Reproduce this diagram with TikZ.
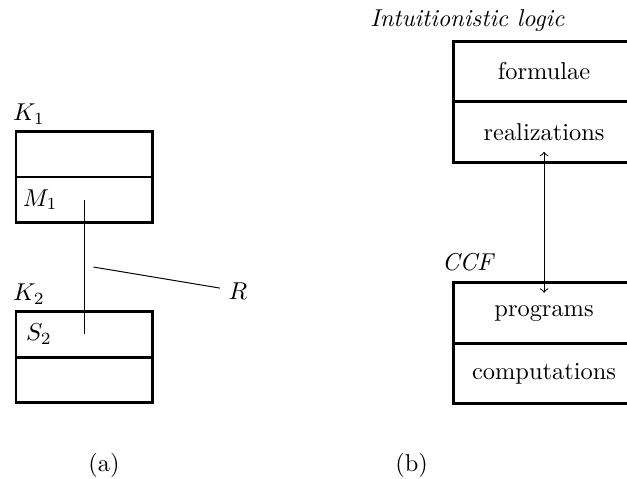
\documentclass[tikz,border=0pt]{standalone}
\usepackage{amsmath}
\usepackage{amssymb}
\usepackage{tikz}
\usetikzlibrary{positioning,calc}

\begin{document}
\begin{tikzpicture}[node distance=0pt, cell/.style={draw, very thick, outer sep=0pt, inner sep=0pt, minimum width=56.1pt, minimum height=18.65pt}, bigcell/.style={draw, very thick, outer sep=0pt, inner sep=0pt, minimum width=74.6pt, minimum height=24.8pt}]
	\useasboundingbox (0,0) rectangle (257pt,-196.3pt);

	% (a)
	\node[cell, anchor=north west] (k_1) at (6.56pt,-53.9pt) {};
	\node[cell] (m_1) [below=of k_1] {};
	\node[cell, anchor=north west] (s_2) at (6.56pt,-127.7pt) {};
	\node[cell] (k_2) [below=of s_2] {};
	\node[anchor=base west, inner sep=0pt] (k_1lab) at ([shift={(-1.4pt,4.5pt)}]k_1.north west) {$K_1$};
	\node[anchor=base west, inner sep=0pt] (k_2lab) at ([shift={(-1.4pt,4.5pt)}]s_2.north west) {$K_2$};
	\node[anchor=west, inner sep=2.6pt] (m_1lab) at (m_1.west) {$M_1$};
	\node[anchor=west, inner sep=3.9pt] (s_2lab) at (s_2.west) {$S_2$};
	\node (R) at (97.5pt,-119.3pt) {$R$};
	\coordinate (rel) at ($(m_1.center)!0.5!(s_2.center)+(3.7pt,0)$);
	\draw[thin] (m_1.center) -- (s_2.center);
	\draw[thin] (rel) -- (R);
	\node (capa) at (42.6pt,-190.6pt) {(a)};

	% (b)
	\node[bigcell, anchor=north west] (form) at (185.7pt,-16.9pt) {formulae};
	\node[bigcell] (real) [below=of form] {realizations};
	\node[bigcell, anchor=north west] (prog) at (185.7pt,-115.9pt) {programs};
	\node[bigcell] (comp) [below=of prog] {computations};
	\node[anchor=base west, inner sep=0pt] (intlog) at ([shift={(-34.1pt,6.1pt)}]form.north west) {\textit{Intuitionistic logic}};
	\node[anchor=base west, inner sep=0pt] (ccf) at ([shift={(-4.7pt,5.2pt)}]prog.north west) {\textit{CCF}};
	\draw[<->] ([yshift=4.3pt]real.south) -- ([yshift=-4.1pt]prog.north);
	\node (capb) at (168.7pt,-190.6pt) {(b)};
\end{tikzpicture}
\end{document}
